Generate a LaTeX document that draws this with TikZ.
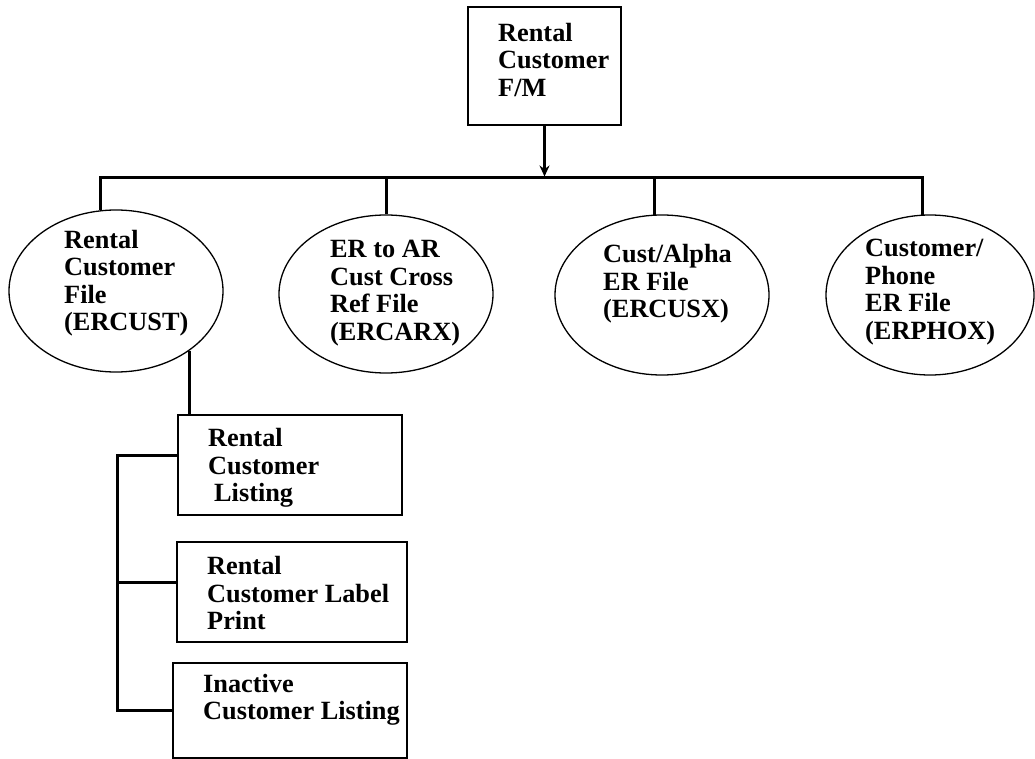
\documentclass[tikz,border=0pt]{standalone}
\usepackage{fontspec}
\setmainfont{Liberation Serif}
\usetikzlibrary{shapes.geometric,arrows.meta}
\begin{document}
\begin{tikzpicture}[x=1pt,y=-1pt,
  link/.style={line width=3pt},
  fileov/.style={draw, ellipse, line width=1.3pt, inner sep=0pt},
  procbox/.style={draw, line width=1.8pt, inner sep=0pt},
  lbl/.style={font=\bfseries\fontsize{26.3}{27.5}\selectfont, align=left, inner sep=0pt, anchor=west}]
\useasboundingbox (0,0) rectangle (1035,759);

% master file-maintenance box
\node[procbox, minimum width=153pt, minimum height=118pt] (top) at (544.5,66) {};
\node[lbl] (topt) at (498,60) {Rental\\Customer\\F/M};

% files
\node[fileov, minimum width=214pt, minimum height=162pt] (e1) at (116,291) {};
\node[fileov, minimum width=214pt, minimum height=158pt] (e2) at (386,294) {};
\node[fileov, minimum width=214pt, minimum height=160pt] (e3) at (662,295) {};
\node[fileov, minimum width=208pt, minimum height=160pt] (e4) at (930,295) {};
\node[lbl] (e1t) at (64,283) {Rental\\Customer\\File\\(ERCUST)};
\node[lbl] (e2t) at (330,293) {ER to AR\\Cust Cross\\Ref File\\(ERCARX)};
\node[lbl] (e3t) at (603,284) {Cust/Alpha\\ER File\\(ERCUSX)};
\node[lbl] (e4t) at (865,292) {Customer/\\Phone\\ER File\\(ERPHOX)};

% reports
\node[procbox, minimum width=224pt, minimum height=100pt] (b1) at (290,465) {};
\node[procbox, minimum width=230pt, minimum height=100pt] (b2) at (292,592) {};
\node[procbox, minimum width=234pt, minimum height=95pt] (b3) at (290,710.5) {};
\node[lbl] (b1t) at (208,468) {Rental\\Customer\\\hspace{6pt}Listing};
\node[lbl] (b2t) at (207,593) {Rental\\Customer Label\\Print};
\node[lbl] (b3t) at (203,700) {Inactive\\Customer Listing};

% connectors
\coordinate (bus) at (0,178);
\coordinate (rail) at (117,0);
\coordinate (s1) at ([yshift=10pt]b1.west);
\coordinate (s2) at ([yshift=10pt]b2.west);
\draw[link, shorten >=1.5pt, -{Stealth[length=11pt,width=10pt]}] (top.south) -- (top.south |- bus);
\draw[link] (e1.101) |- (e4.95.7 |- bus) -- (e4.95.7);
\draw[link] (e2.north) -- (e2.north |- bus);
\draw[link] (e3.95) -- (e3.95 |- bus);
\draw[link] (e1.-39.8) -- (e1.-39.8 |- b1.north);
\draw[link] (s1) -| (rail |- b3.west) -- (b3.west);
\draw[link] (s2) -- (rail |- s2);
\end{tikzpicture}
\end{document}
